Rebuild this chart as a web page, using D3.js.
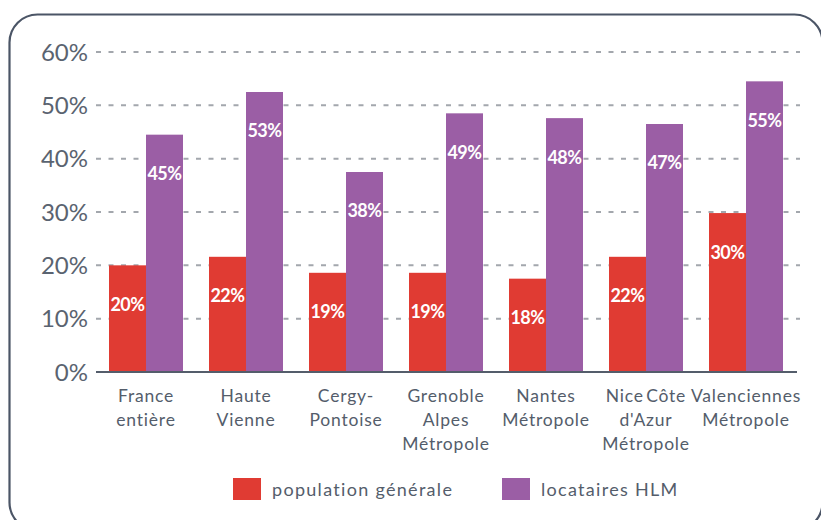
<!DOCTYPE html>
<html><head><meta charset="utf-8">
<script src="https://cdn.jsdelivr.net/npm/d3@7"></script>
<style>
html,body{margin:0;padding:0;background:#fff;}
svg{display:block;}
</style></head>
<body>
<svg id="chart" width="821" height="520"></svg>
<script>
const categories = [
  ["France","entière"],
  ["Haute","Vienne"],
  ["Cergy-","Pontoise"],
  ["Grenoble","Alpes","Métropole"],
  ["Nantes","Métropole"],
  ["Nice Côte","d'Azur","Métropole"],
  ["Valenciennes","Métropole"]
];
const popGenerale = [20, 21.6, 18.6, 18.6, 17.5, 21.6, 29.8];
const locatairesHLM = [44.5, 52.5, 37.5, 48.5, 47.6, 46.5, 54.5];
const yTicks = [0, 10, 20, 30, 40, 50, 60];
const seriesNames = ["population générale", "locataires HLM"];
const colors = ["#e03b33", "#9b5ea5"];

const svg = d3.select("#chart");
const textColor = "#545d6b";
const font = "Lato, 'DejaVu Sans', sans-serif";

// frame
svg.append("rect").attr("x",9.5).attr("y",14.5).attr("width",813).attr("height",516)
  .attr("rx",28).attr("fill","none").attr("stroke","#4b5566").attr("stroke-width",2.2);

const x0 = d3.scaleBand().domain(d3.range(categories.length)).range([96,796]).paddingInner(0.26).paddingOuter(0.13);
const x1 = d3.scaleBand().domain([0,1]).range([0, x0.bandwidth()]);
const y = d3.scaleLinear().domain([0,60]).range([372,52]);

// grid
svg.append("g").selectAll("line").data(yTicks.filter(d=>d>0)).join("line")
  .attr("x1",96).attr("x2",800).attr("y1",d=>y(d)).attr("y2",d=>y(d))
  .attr("stroke","#a3a7ad").attr("stroke-width",2).attr("stroke-dasharray","5,7.5");

// y tick labels
svg.append("g").selectAll("text").data(yTicks).join("text")
  .attr("x",88).attr("y",d=>y(d)).attr("dy","0.36em").attr("text-anchor","end")
  .attr("font-family",font).attr("font-size",24).attr("fill","#5a6370")
  .text(d=>d+"%");

const series = [popGenerale, locatairesHLM];
series.forEach((vals, si) => {
  const g = svg.append("g");
  g.selectAll("rect").data(vals).join("rect")
    .attr("x",(d,i)=>x0(i)+x1(si)).attr("width",x1.bandwidth())
    .attr("y",d=>y(d)).attr("height",d=>y(0)-y(d)).attr("fill",colors[si]);
  g.selectAll("text").data(vals).join("text")
    .attr("x",(d,i)=>x0(i)+x1(si)+x1.bandwidth()/2).attr("y",d=>y(d)+39).attr("dy","0.36em")
    .attr("text-anchor","middle").attr("font-family",font).attr("font-weight","bold")
    .attr("font-size",18).attr("letter-spacing","-0.5px").attr("fill","#fff").text(d=>Math.round(d)+"%");
});

// axis line
svg.append("line").attr("x1",96).attr("x2",797).attr("y1",y(0)).attr("y2",y(0))
  .attr("stroke","#545d6b").attr("stroke-width",2);

// category labels
const cl = svg.append("g").selectAll("text").data(categories).join("text")
  .attr("x",(d,i)=>x0(i)+x0.bandwidth()/2).attr("y",402)
  .attr("text-anchor","middle").attr("font-family",font).attr("font-size",17.5)
  .attr("letter-spacing","0.8px").attr("word-spacing","-3px").attr("fill",textColor);
cl.selectAll("tspan").data(d=>d).join("tspan")
  .attr("x",function(){return d3.select(this.parentNode).attr("x");})
  .attr("dy",(d,i)=>i===0?0:24).text(d=>d);

// legend
const legX = [233, 502];
seriesNames.forEach((n,i)=>{
  svg.append("rect").attr("x",legX[i]).attr("y",478).attr("width",28).attr("height",22).attr("fill",colors[i]);
  svg.append("text").attr("x",legX[i]+39).attr("y",496).attr("font-family",font).attr("font-size",18)
    .attr("letter-spacing","1.3px").attr("fill",textColor).text(n);
});
</script>
</body></html>
